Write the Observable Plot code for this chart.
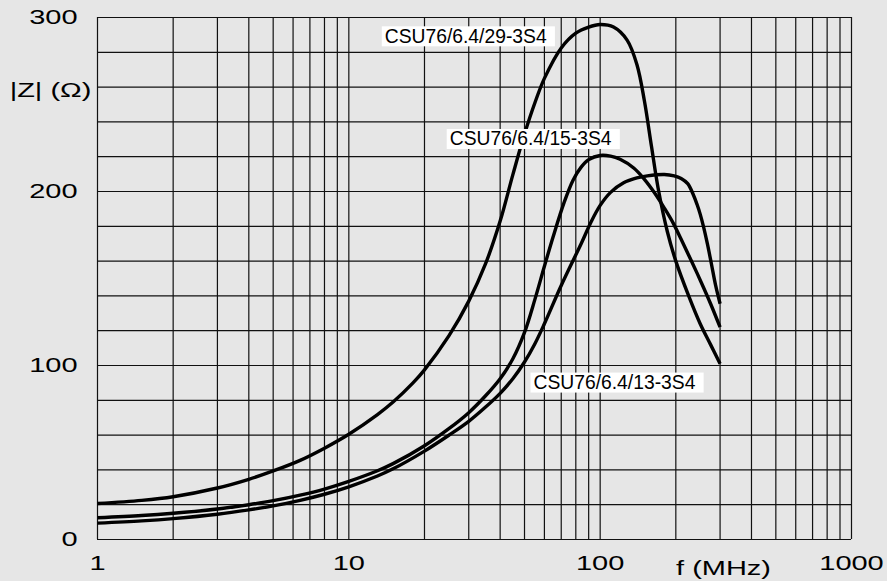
<!DOCTYPE html>
<html>
<head>
<meta charset="utf-8">
<script src="https://cdn.jsdelivr.net/npm/d3@7"></script>
<script src="https://cdn.jsdelivr.net/npm/@observablehq/plot@0.6"></script>
<style>
html, body { margin: 0; padding: 0; background: #e6e6e6; }
#chart { width: 887px; height: 581px; }
</style>
</head>
<body>
<div id="chart"></div>
<script>
// ---- data ----
const seriesNames = ["CSU76/6.4/29-3S4", "CSU76/6.4/15-3S4", "CSU76/6.4/13-3S4"];

const freqA = [1, 1.5, 2, 3, 4, 5, 6.4, 8, 10, 13, 15, 18, 20, 25, 30, 35, 40, 45, 50, 55, 60, 70, 80, 90, 100, 113, 128, 140, 150, 160, 170, 185, 200, 225, 250, 275, 300];
const zA    = [20.7, 22.5, 24.6, 29.6, 34.6, 39.4, 45.5, 52.5, 60.5, 71.8, 79, 90, 97.5, 117, 137, 158.5, 183, 210, 233, 251, 265, 282.5, 291, 294.5, 296, 294.5, 287, 273, 252, 226, 202, 177, 160, 140, 124, 112, 101];

const freqB = [1, 1.5, 2, 3, 4, 5, 6.4, 8, 10, 13, 15, 20, 25, 30, 35, 40, 45, 50, 55, 60, 65, 72, 78, 84, 90, 100, 110, 120, 136, 150, 165, 180, 195, 210, 230, 252, 275, 300];
const zB    = [12.5, 13.8, 15.1, 17.5, 20, 22.3, 25.5, 29, 33.4, 39.5, 43.6, 53.9, 63.7, 72.9, 82.6, 92.4, 104, 119, 138, 157, 174, 194, 206.5, 214, 218.3, 220.7, 220.3, 218.5, 213.5, 207, 199, 190.5, 182, 172.5, 160.5, 148, 135.5, 122];

const freqC = [1, 1.5, 2, 3, 4, 5, 6.4, 8, 10, 13, 15, 20, 25, 30, 35, 40, 45, 50, 55, 60, 70, 84, 92, 100, 110, 124, 140, 154, 180, 197, 210, 223, 235, 243, 250, 258, 267, 277, 288, 300];
const zC    = [9.4, 10.7, 12, 14.5, 17, 19.3, 22.5, 26, 30.3, 36.5, 40.6, 50.8, 59.9, 67.9, 76.1, 84, 92.5, 102, 112.5, 124, 146, 170, 182.5, 192, 199.5, 205, 207.8, 209, 209.8, 209, 207.5, 204.5, 198, 192.5, 187, 179.5, 170, 158.5, 146, 135.5];

const labelFreq = [13.9, 25.2, 54.3];
const labelZ    = [289, 230, 90];

const xTickLabels = [1, 10, 100, 1000];
const yTickLabels = [0, 100, 200, 300];
const xGrid = [1, 2, 3, 4, 5, 6, 7, 8, 9, 10, 20, 30, 40, 50, 60, 70, 80, 90, 100, 200, 300, 400, 500, 600, 700, 800, 900, 1000];
const yGrid = [0, 20, 40, 60, 80, 100, 120, 140, 160, 180, 200, 220, 240, 260, 280, 300];
const xTitle = "f (MHz)";
const yTitle = "|Z| (Ω)";

// ---- build tables ----
const allSeries = [[freqA, zA], [freqB, zB], [freqC, zC]];
const rows = allSeries.flatMap(([fs, zs], k) => fs.map((f, i) => ({series: seriesNames[k], f, z: zs[i]})));
const labels = seriesNames.map((name, i) => ({name, f: labelFreq[i], z: labelZ[i]}));

const axisFont = 21;
const txt = {fontSize: axisFont, fill: "#000", textAnchor: "middle", lineAnchor: "middle"};
const chart = Plot.plot({
  width: 887,
  height: 581,
  marginLeft: 97,
  marginRight: 36,
  marginTop: 17,
  marginBottom: 42,
  style: {background: "#e6e6e6", fontFamily: "'Liberation Sans', Arial, Helvetica, sans-serif", color: "#000"},
  x: {type: "log", domain: [1, 1000], axis: null},
  y: {domain: [0, 300], axis: null},
  marks: [
    Plot.ruleX(xGrid, {stroke: "#111", strokeWidth: 1.2}),
    Plot.ruleY(yGrid, {stroke: "#111", strokeWidth: 1.2}),
    Plot.line(rows, {x: "f", y: "z", z: "series", stroke: "#000", strokeWidth: 3.4, curve: "catmull-rom", strokeLinecap: "butt"}),
    Plot.text(labels, {x: "f", y: "z", text: "name", textAnchor: "start", lineAnchor: "middle", fontSize: 19.3, fill: "#000"}),
    Plot.text(xTickLabels, {...txt, x: d => d, frameAnchor: "bottom", dy: 24, text: d => String(d)}),
    Plot.text(yTickLabels, {...txt, y: d => d, frameAnchor: "left", dx: -20, textAnchor: "end", text: d => String(d)}),
    Plot.text([xTitle], {...txt, frameAnchor: "bottom-right", dx: -128, dy: 29, text: d => d}),
    Plot.text([yTitle], {...txt, frameAnchor: "top-left", dx: -47, dy: 73, text: d => d})
  ]
});
document.getElementById("chart").appendChild(chart);

// ---- post styling: widen axis text, add white boxes behind series labels ----
const stretchSet = new Set([...xTickLabels.map(String), ...yTickLabels.map(String), xTitle, yTitle]);
const annotSet = new Set(seriesNames);
d3.select(chart).selectAll("text").each(function() {
  const t = this.textContent;
  let tr = this.getAttribute("transform");
  if (!tr) {
    const x = +(this.getAttribute("x") || 0), y = +(this.getAttribute("y") || 0);
    tr = `translate(${x},${y})`;
    this.removeAttribute("x"); this.removeAttribute("y");
    this.setAttribute("transform", tr);
  }
  if (stretchSet.has(t)) {
    this.setAttribute("transform", tr + " scale(1.38,1)");
  } else if (annotSet.has(t)) {
    const bb = this.getBBox();
    const r = document.createElementNS("http://www.w3.org/2000/svg", "rect");
    r.setAttribute("transform", tr);
    r.setAttribute("x", bb.x - 3);
    r.setAttribute("y", bb.y + 0.5);
    r.setAttribute("width", bb.width + 11);
    r.setAttribute("height", bb.height - 1);
    r.setAttribute("fill", "#fff");
    r.setAttribute("stroke", "none");
    this.parentNode.insertBefore(r, this);
  }
});
</script>
</body>
</html>
